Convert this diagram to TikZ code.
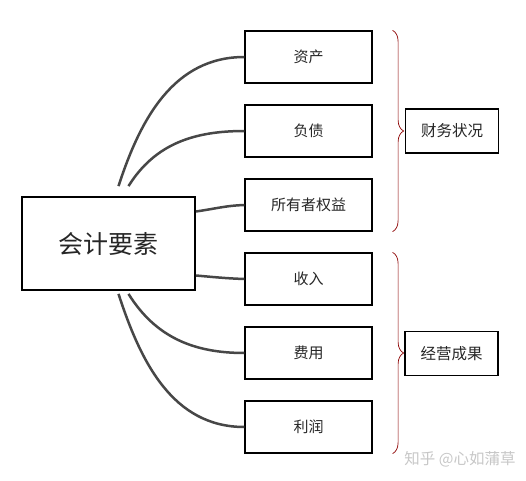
\documentclass[tikz,border=0pt]{standalone}
\usepackage{fontspec}
\setmainfont{Noto Sans CJK SC}
\usetikzlibrary{decorations.pathreplacing}
\begin{document}
\begin{tikzpicture}[x=1pt, y=1pt,
	every node/.style = {shape=rectangle, draw, line width=1.2pt,
		align=center, inner sep=0pt, text=black!85},
	item/.style = {minimum width=127pt, minimum height=52pt,
		font=\fontsize{15}{18}\selectfont},
	sum/.style = {minimum width=93pt, minimum height=44pt,
		font=\fontsize{15.5}{18}\selectfont},
	link/.style = {draw=black!72, line width=2.5pt},
	brace/.style = {draw=red!55!black, line width=0.7pt, decorate,
		decoration={brace, amplitude=11pt}}]
	\useasboundingbox (0,0) rectangle (526,480);
	\node[minimum width=173pt, minimum height=93pt, line width=1.8pt,
		font=\fontsize{25}{30}\selectfont] (main) at (108.5,236.5) {会计要素};
	\node[item] (zc) at (308.5,423) {资产};
	\node[item] (fz) at (308.5,349) {负债};
	\node[item] (qy) at (308.5,275) {所有者权益};
	\node[item] (sr) at (308.5,201) {收入};
	\node[item] (fy) at (308.5,127) {费用};
	\node[item] (lr) at (308.5,53) {利润};
	\node[sum] (cwzk) at (452,349) {财务状况};
	\node[sum] (jycg) at (451.5,126.5) {经营成果};
	\node[draw=none, text=black!22, font=\fontsize{15.5}{18}\selectfont]
		(mark) at (460,21) {知乎 @心如蒲草};
	% connectors
	\draw[link] ([shift={(10,10)}]main.north) to[out=72, in=180] (zc.west);
	\draw[link] ([shift={(20,10)}]main.north) to[out=58, in=180] (fz.west);
	\draw[link] ([yshift=32]main.east) to[out=8, in=182] (qy.west);
	\draw[link] ([yshift=-32]main.east) to[out=-5, in=178] (sr.west);
	\draw[link] ([shift={(20,-3)}]main.south) to[out=-58, in=180] (fy.west);
	\draw[link] ([shift={(10,-3)}]main.south) to[out=-72, in=180] (lr.west);
	% braces
	\draw[brace] ([xshift=20]zc.north east) -- ([xshift=20]qy.south east);
	\draw[brace] ([xshift=20]sr.north east) -- ([xshift=20]lr.south east);
\end{tikzpicture}
\end{document}
